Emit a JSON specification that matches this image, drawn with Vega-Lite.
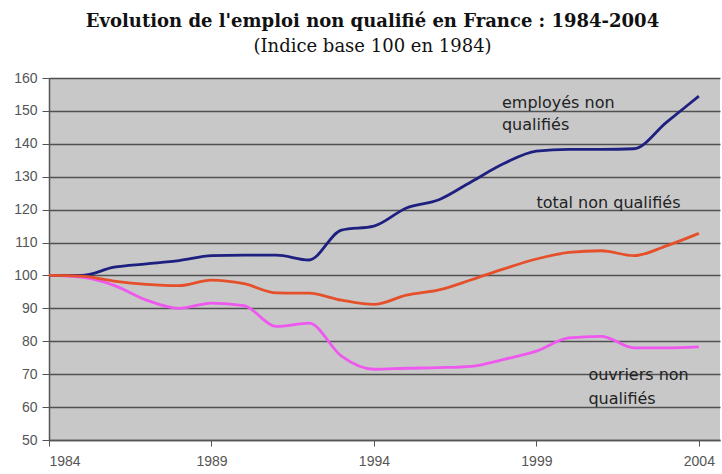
{
  "$schema": "https://vega.github.io/schema/vega-lite/v6.json",
  "width": 671,
  "height": 362,
  "autosize": {"type": "none"},
  "padding": {"left": 49, "top": 78, "right": 2, "bottom": 34},
  "background": "#ffffff",
  "title": {
    "text": "Evolution de l'emploi non qualifié en France : 1984-2004",
    "subtitle": "(Indice base 100 en 1984)",
    "font": "DejaVu Serif",
    "fontSize": 18,
    "fontWeight": "bold",
    "color": "#111111",
    "subtitleFont": "DejaVu Serif",
    "subtitleFontSize": 18,
    "subtitleColor": "#111111",
    "subtitlePadding": 7,
    "anchor": "middle",
    "dx": -12,
    "offset": 15
  },
  "config": {
    "view": {"fill": "#C8C8C9", "stroke": null},
    "axis": {"labelFont": "Liberation Sans", "labelFontSize": 14, "labelColor": "#555555", "labelOverlap": false}
  },
  "datasets": {
    "series": [
      {"year": 1984, "serie": "ouvriers non qualifiés", "value": 100},
      {"year": 1985, "serie": "ouvriers non qualifiés", "value": 99.5},
      {"year": 1986, "serie": "ouvriers non qualifiés", "value": 97},
      {"year": 1987, "serie": "ouvriers non qualifiés", "value": 92.5},
      {"year": 1988, "serie": "ouvriers non qualifiés", "value": 90},
      {"year": 1989, "serie": "ouvriers non qualifiés", "value": 91.6},
      {"year": 1990, "serie": "ouvriers non qualifiés", "value": 90.8},
      {"year": 1991, "serie": "ouvriers non qualifiés", "value": 84.5},
      {"year": 1992, "serie": "ouvriers non qualifiés", "value": 85.5},
      {"year": 1993, "serie": "ouvriers non qualifiés", "value": 75.5},
      {"year": 1994, "serie": "ouvriers non qualifiés", "value": 71.5},
      {"year": 1995, "serie": "ouvriers non qualifiés", "value": 71.8},
      {"year": 1996, "serie": "ouvriers non qualifiés", "value": 72},
      {"year": 1997, "serie": "ouvriers non qualifiés", "value": 72.4},
      {"year": 1998, "serie": "ouvriers non qualifiés", "value": 74.5},
      {"year": 1999, "serie": "ouvriers non qualifiés", "value": 77},
      {"year": 2000, "serie": "ouvriers non qualifiés", "value": 81},
      {"year": 2001, "serie": "ouvriers non qualifiés", "value": 81.5},
      {"year": 2002, "serie": "ouvriers non qualifiés", "value": 78},
      {"year": 2003, "serie": "ouvriers non qualifiés", "value": 78},
      {"year": 2004, "serie": "ouvriers non qualifiés", "value": 78.3},
      {"year": 1984, "serie": "employés non qualifiés", "value": 100},
      {"year": 1985, "serie": "employés non qualifiés", "value": 100},
      {"year": 1986, "serie": "employés non qualifiés", "value": 102.5},
      {"year": 1987, "serie": "employés non qualifiés", "value": 103.5},
      {"year": 1988, "serie": "employés non qualifiés", "value": 104.5},
      {"year": 1989, "serie": "employés non qualifiés", "value": 106},
      {"year": 1990, "serie": "employés non qualifiés", "value": 106.2},
      {"year": 1991, "serie": "employés non qualifiés", "value": 106.2},
      {"year": 1992, "serie": "employés non qualifiés", "value": 104.7},
      {"year": 1993, "serie": "employés non qualifiés", "value": 113.8},
      {"year": 1994, "serie": "employés non qualifiés", "value": 115},
      {"year": 1995, "serie": "employés non qualifiés", "value": 120.5},
      {"year": 1996, "serie": "employés non qualifiés", "value": 123},
      {"year": 1997, "serie": "employés non qualifiés", "value": 128.5},
      {"year": 1998, "serie": "employés non qualifiés", "value": 134},
      {"year": 1999, "serie": "employés non qualifiés", "value": 137.8},
      {"year": 2000, "serie": "employés non qualifiés", "value": 138.3},
      {"year": 2001, "serie": "employés non qualifiés", "value": 138.3},
      {"year": 2002, "serie": "employés non qualifiés", "value": 138.5},
      {"year": 2003, "serie": "employés non qualifiés", "value": 146.5},
      {"year": 2004, "serie": "employés non qualifiés", "value": 154.5},
      {"year": 1984, "serie": "total non qualifiés", "value": 100},
      {"year": 1985, "serie": "total non qualifiés", "value": 99.8},
      {"year": 1986, "serie": "total non qualifiés", "value": 98.3},
      {"year": 1987, "serie": "total non qualifiés", "value": 97.3},
      {"year": 1988, "serie": "total non qualifiés", "value": 96.9},
      {"year": 1989, "serie": "total non qualifiés", "value": 98.6},
      {"year": 1990, "serie": "total non qualifiés", "value": 97.5},
      {"year": 1991, "serie": "total non qualifiés", "value": 94.7},
      {"year": 1992, "serie": "total non qualifiés", "value": 94.6},
      {"year": 1993, "serie": "total non qualifiés", "value": 92.5},
      {"year": 1994, "serie": "total non qualifiés", "value": 91.2},
      {"year": 1995, "serie": "total non qualifiés", "value": 94},
      {"year": 1996, "serie": "total non qualifiés", "value": 95.6},
      {"year": 1997, "serie": "total non qualifiés", "value": 98.7},
      {"year": 1998, "serie": "total non qualifiés", "value": 102},
      {"year": 1999, "serie": "total non qualifiés", "value": 105},
      {"year": 2000, "serie": "total non qualifiés", "value": 107},
      {"year": 2001, "serie": "total non qualifiés", "value": 107.5},
      {"year": 2002, "serie": "total non qualifiés", "value": 106},
      {"year": 2003, "serie": "total non qualifiés", "value": 109},
      {"year": 2004, "serie": "total non qualifiés", "value": 112.8}
    ],
    "labels": [
      {"year": 1997.94, "value": 152.4, "text": "employés non"},
      {"year": 1997.94, "value": 145.7, "text": "qualifiés"},
      {"year": 1999.0, "value": 122.0, "text": "total non qualifiés"},
      {"year": 2000.6, "value": 69.8, "text": "ouvriers non"},
      {"year": 2000.6, "value": 62.5, "text": "qualifiés"}
    ]
  },
  "encoding": {
    "x": {
      "field": "year", "type": "quantitative",
      "scale": {"domain": [1984, 2004.65], "nice": false, "zero": false},
      "axis": {
        "title": null, "values": [1984, 1989, 1994, 1999, 2004], "format": "d",
        "grid": false, "domainColor": "#555555", "domainWidth": 1.5,
        "tickColor": "#555555", "tickSize": 6, "labelPadding": 8,
        "labelOverlap": false
      }
    },
    "y": {
      "field": "value", "type": "quantitative",
      "scale": {"domain": [50, 160], "nice": false, "zero": false},
      "axis": {
        "title": null, "values": [50, 60, 70, 80, 90, 100, 110, 120, 130, 140, 150, 160],
        "grid": true, "gridColor": "#505050", "gridWidth": 1.5,
        "domainColor": "#555555", "domainWidth": 1.5,
        "tickColor": "#555555", "tickSize": 7, "labelPadding": 5,
        "labelOverlap": false, "labelBound": false, "labelFlush": false
      }
    }
  },
  "layer": [
    {
      "data": {"name": "series"},
      "mark": {"type": "line", "interpolate": "monotone", "strokeWidth": 2.8},
      "encoding": {
        "color": {
          "field": "serie", "type": "nominal",
          "scale": {
            "domain": ["employés non qualifiés", "total non qualifiés", "ouvriers non qualifiés"],
            "range": ["#1E2080", "#E5502B", "#EE58EE"]
          },
          "legend": null
        },
        "order": {"field": "year", "type": "quantitative"}
      }
    },
    {
      "data": {"name": "labels"},
      "mark": {"type": "text", "align": "left", "baseline": "middle", "font": "DejaVu Sans", "fontSize": 16, "color": "#222222"},
      "encoding": {
        "text": {"field": "text"}
      }
    }
  ]
}
